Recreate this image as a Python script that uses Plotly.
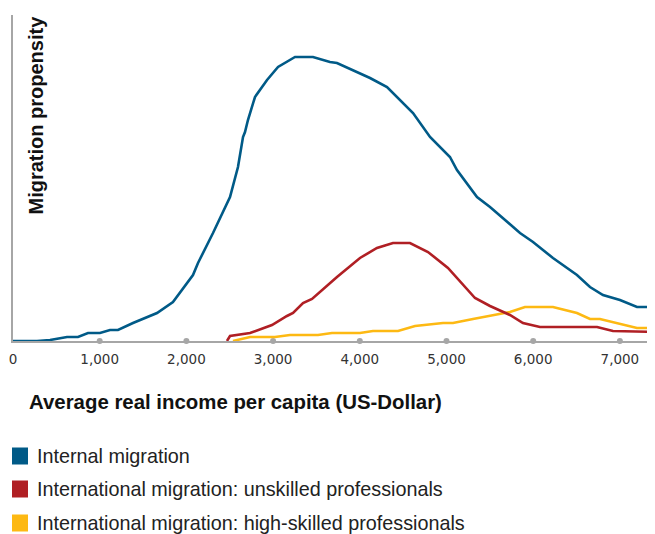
import plotly.graph_objects as go

# Data (income in US-Dollar, propensity in arbitrary units)
internal_x = [0, 277, 427, 623, 750, 865, 1003, 1119, 1211, 1384, 1661, 1845, 2076, 2134, 2307,
              2503, 2595, 2653, 2676, 2710, 2791, 2930, 3057, 3253, 3460, 3656, 3737, 4118, 4314,
              4383, 4614, 4810, 5040, 5121, 5352, 5502, 5848, 5998, 6228, 6505, 6655, 6805, 7001,
              7197, 7405]
internal_y = [0, 0, 1, 4, 4, 8, 8, 11, 11, 18, 28, 39, 66, 78, 108,
              144, 174, 204, 209, 221, 244, 261, 274, 284, 284, 279, 278, 263, 254,
              248, 228, 204, 184, 171, 144, 134, 108, 99, 83, 66, 54, 46, 41,
              34, 34]

unskilled_x = [2468, 2480, 2503, 2734, 2987, 3160, 3230, 3345, 3449, 3737, 4002, 4198, 4383, 4579,
               4787, 5017, 5190, 5329, 5502, 5732, 5882, 6078, 6736, 6920, 7405]
unskilled_y = [0, 2, 5, 8, 16, 25, 28, 38, 42, 64, 83, 93, 98, 98,
               89, 73, 56, 43, 35, 26, 18, 14, 14, 10, 9]

highskilled_x = [2537, 2734, 3022, 3195, 3518, 3679, 4002, 4152, 4441, 4637, 4960, 5075, 5306, 5536,
                 5732, 5905, 6228, 6505, 6655, 6770, 7197, 7405]
highskilled_y = [0, 4, 4, 6, 6, 8, 8, 10, 10, 15, 18, 18, 22, 26,
                 29, 34, 34, 28, 22, 22, 13, 13]

tick_vals = [0, 1000, 2000, 3000, 4000, 5000, 6000, 7000]
tick_text = ["0", "1,000", "2,000", "3,000", "4,000", "5,000", "6,000", "7,000"]
dot_vals = [1000, 2000, 3000, 4000, 5000, 6000, 7000]

series_names = ["Internal migration",
                "International migration: unskilled professionals",
                "International migration: high-skilled professionals"]
colors = ["#005a87", "#b01f24", "#fdb913"]

FONT = "Liberation Sans, Arial, sans-serif"

fig = go.Figure()
fig.add_trace(go.Scatter(x=dot_vals, y=[0] * len(dot_vals), mode="markers",
                         marker=dict(color="#a6a6a6", size=6), cliponaxis=False,
                         showlegend=False, hoverinfo="skip"))
for xs, ys, c in [(highskilled_x, highskilled_y, colors[2]),
                  (unskilled_x, unskilled_y, colors[1]),
                  (internal_x, internal_y, colors[0])]:
    fig.add_trace(go.Scatter(x=xs, y=ys, mode="lines", line=dict(color=c, width=2.6),
                             cliponaxis=False, showlegend=False))

# Legend drawn manually (positions in page pixels converted to paper coords)
def px(x):
    return (x - 13) / 642

def py(y):
    return (341 - y) / 326

legend_y = [456, 489, 523]
for name, c, yy in zip(series_names, colors, legend_y):
    fig.add_shape(type="rect", xref="paper", yref="paper",
                  x0=px(12), x1=px(28), y0=py(yy + 8.5), y1=py(yy - 8.5),
                  fillcolor=c, line=dict(width=0))
    fig.add_annotation(text=name, xref="paper", yref="paper",
                       x=px(35), y=py(yy), xanchor="left", yanchor="middle", showarrow=False,
                       font=dict(family=FONT, size=19.8, color="#222222"))

fig.add_annotation(text="<b>Migration propensity</b>", xref="paper", yref="paper",
                   x=px(35), y=py(14), xanchor="center", yanchor="top",
                   textangle=-90, showarrow=False,
                   font=dict(family=FONT, size=20, color="#111111"))
fig.add_annotation(text="<b>Average real income per capita (US-Dollar)</b>", xref="paper", yref="paper",
                   x=px(27), y=py(402), xanchor="left", yanchor="middle",
                   showarrow=False, font=dict(family=FONT, size=20.4, color="#111111"))

fig.update_xaxes(range=[0, 7405], tickvals=tick_vals, ticktext=tick_text,
                 showgrid=False, zeroline=False, showline=True, linecolor="#a6a6a6", linewidth=1.5,
                 ticks="", tickfont=dict(family="DejaVu Sans, sans-serif", size=13.5, color="#333333"),
                 ticklabelstandoff=5)
fig.update_yaxes(range=[0, 326], showgrid=False, zeroline=False, showline=True,
                 linecolor="#a6a6a6", linewidth=1.5, showticklabels=False, ticks="")

# The page body adds an 8px offset, so the figure is sized to fit the remaining window
fig.update_layout(width=647, height=526, margin=dict(l=5, r=0, t=7, b=193),
                  plot_bgcolor="white", paper_bgcolor="white", showlegend=False,
                  font=dict(family=FONT))
fig.write_html("out.html")
